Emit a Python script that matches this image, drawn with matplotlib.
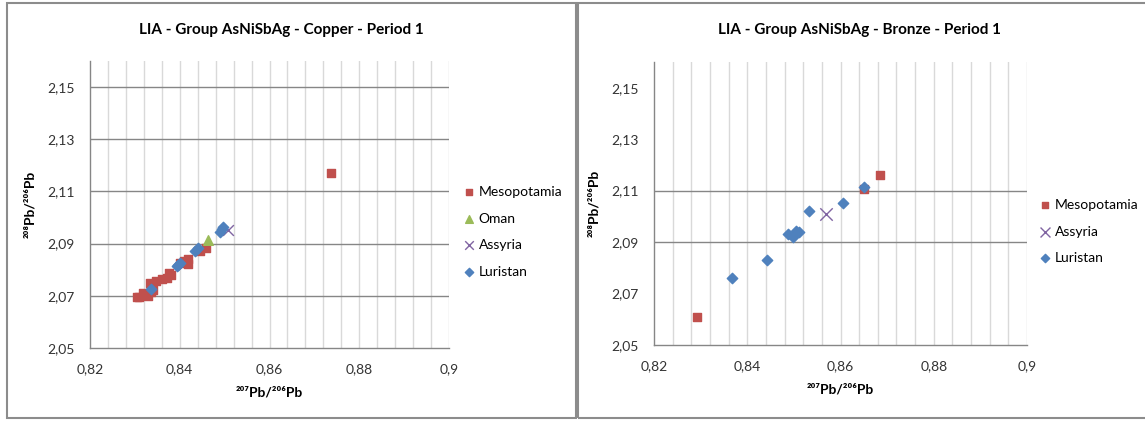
import matplotlib
matplotlib.use("Agg")
import matplotlib.pyplot as plt
from matplotlib.patches import Rectangle
import numpy as np

plt.rcParams['font.family'] = ['Lato', 'DejaVu Sans']

# --- data: left panel (Copper) ---
cu_meso_x = [0.8304, 0.8310, 0.8319, 0.8330, 0.8337, 0.8334, 0.8341, 0.8347, 0.8360,
             0.8372, 0.8377, 0.8380, 0.8401, 0.8410, 0.8419, 0.8419, 0.8445, 0.8458, 0.8737]
cu_meso_y = [2.0696, 2.0694, 2.0709, 2.0700, 2.0716, 2.0751, 2.0722, 2.0757, 2.0764,
             2.0770, 2.0789, 2.0780, 2.0827, 2.0832, 2.0840, 2.0821, 2.0872, 2.0882, 2.1170]
cu_oman_x = [0.8464]
cu_oman_y = [2.0913]
cu_assy_x = [0.8508]
cu_assy_y = [2.0954]
cu_luri_x = [0.8336, 0.8393, 0.8397, 0.8401, 0.8434, 0.8441, 0.8490, 0.8494, 0.8497]
cu_luri_y = [2.0728, 2.0815, 2.0820, 2.0824, 2.0872, 2.0882, 2.0945, 2.0955, 2.0964]

# --- data: right panel (Bronze) ---
br_meso_x = [0.8292, 0.8650, 0.8685]
br_meso_y = [2.0609, 2.1107, 2.1160]
br_assy_x = [0.8569]
br_assy_y = [2.1009]
br_luri_x = [0.8368, 0.8443, 0.8488, 0.8499, 0.8505, 0.8512, 0.8533, 0.8605, 0.8650]
br_luri_y = [2.0762, 2.0831, 2.0931, 2.0919, 2.0945, 2.0941, 2.1022, 2.1052, 2.1113]

x_ticks = [0.82, 0.84, 0.86, 0.88, 0.90]
x_labels = ['0,82', '0,84', '0,86', '0,88', '0,9']
y_ticks = [2.05, 2.07, 2.09, 2.11, 2.13, 2.15]
y_labels = ['2,05', '2,07', '2,09', '2,11', '2,13', '2,15']

RED = '#C0504D'
GREEN = '#9BBB59'
PURPLE = '#8064A2'
BLUE = '#4F81BD'
GRID_DARK = '#868686'
GRID_LIGHT = '#D9D9D9'

W, H = 1145, 421
fig = plt.figure(figsize=(W / 100, H / 100), dpi=100)


def px_axes(x0, y_top, x1, y_bot):
    return fig.add_axes([x0 / W, 1 - y_bot / H, (x1 - x0) / W, (y_bot - y_top) / H])


# panel borders
for (x0, x1) in [(7, 576), (578, 1150)]:
    fig.patches.append(Rectangle((x0 / W, 3 / H), (x1 - x0) / W, (418 - 3) / H,
                                 transform=fig.transFigure, fill=False,
                                 edgecolor='#8C8C8C', linewidth=1.5))


def style_axes(ax, hgrid):
    ax.set_xlim(0.82, 0.90)
    ax.set_ylim(2.05, 2.16)
    for xv in np.arange(0.824, 0.9001, 0.004):
        ax.axvline(xv, color=GRID_LIGHT, lw=1, zorder=0)
    for yv in hgrid:
        ax.axhline(yv, color=GRID_DARK, lw=1, zorder=0.5)
    ax.set_xticks(x_ticks)
    ax.set_xticklabels(x_labels)
    ax.set_yticks(y_ticks)
    ax.set_yticklabels(y_labels)
    ax.tick_params(length=0, labelsize=10, colors='#333333', pad=11)
    for s in ['top', 'right']:
        ax.spines[s].set_visible(False)
    for s in ['left', 'bottom']:
        ax.spines[s].set_color(GRID_DARK)
        ax.spines[s].set_linewidth(1)
    ax.set_xlabel('²⁰⁷Pb/²⁰⁶Pb', fontsize=10, fontweight='bold', labelpad=8)
    ax.set_ylabel('²⁰⁸Pb/²⁰⁶Pb', fontsize=10, fontweight='bold', labelpad=8)


# left panel
ax1 = px_axes(90, 61, 449, 348)
style_axes(ax1, [2.07, 2.09, 2.11, 2.13, 2.15])
h1 = ax1.scatter(cu_meso_x, cu_meso_y, marker='s', s=34, color=RED, label='Mesopotamia', zorder=3)
h2 = ax1.scatter(cu_oman_x, cu_oman_y, marker='^', s=48, color=GREEN, label='Oman', zorder=4)
h3 = ax1.scatter(cu_assy_x, cu_assy_y, marker='x', s=60, color=PURPLE, linewidths=1, label='Assyria', zorder=4)
h4 = ax1.scatter(cu_luri_x, cu_luri_y, marker='D', s=28, color=BLUE, label='Luristan', zorder=5)
fig.text(281 / W, 1 - 30 / H, 'LIA - Group AsNiSbAg - Copper - Period 1',
         ha='center', va='center', fontsize=11, fontweight='bold')
ax1.legend(handles=[h1, h2, h3, h4], loc='upper left', bbox_to_anchor=(458 / W, 1 - 179 / H),
           bbox_transform=fig.transFigure, frameon=False, fontsize=10,
           handlelength=0.6, handletextpad=0.4, labelspacing=1.05, borderpad=0,
           markerscale=0.8)

# right panel
ax2 = px_axes(654, 62, 1027, 345)
style_axes(ax2, [2.09, 2.11])
g1 = ax2.scatter(br_meso_x, br_meso_y, marker='s', s=34, color=RED, label='Mesopotamia', zorder=3)
g3 = ax2.scatter(br_assy_x, br_assy_y, marker='x', s=80, color=PURPLE, linewidths=1, label='Assyria', zorder=4)
g4 = ax2.scatter(br_luri_x, br_luri_y, marker='D', s=28, color=BLUE, label='Luristan', zorder=5)
fig.text(860 / W, 1 - 30 / H, 'LIA - Group AsNiSbAg - Bronze - Period 1',
         ha='center', va='center', fontsize=11, fontweight='bold')
ax2.legend(handles=[g1, g3, g4], loc='upper left', bbox_to_anchor=(1034 / W, 1 - 192 / H),
           bbox_transform=fig.transFigure, frameon=False, fontsize=10,
           handlelength=0.6, handletextpad=0.4, labelspacing=1.05, borderpad=0,
           markerscale=0.8)

fig.savefig('out.png', dpi=100)
